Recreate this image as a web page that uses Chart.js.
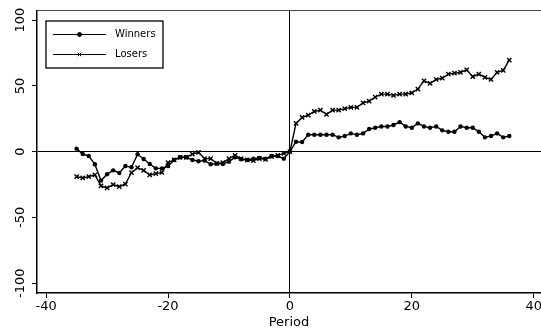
<!DOCTYPE html>
<html>
<head>
<meta charset="utf-8">
<script src="https://cdn.jsdelivr.net/npm/chart.js@4/dist/chart.umd.min.js"></script>
<style>
  html, body { margin: 0; padding: 0; background: #fff; }
  #wrap { width: 541px; height: 331px; }
</style>
</head>
<body>
<div id="wrap"><canvas id="c" width="541" height="331"></canvas></div>
<script>
const periods = [-35,-34,-33,-32,-31,-30,-29,-28,-27,-26,-25,-24,-23,-22,-21,-20,-19,-18,-17,-16,-15,-14,-13,-12,-11,-10,-9,-8,-7,-6,-5,-4,-3,-2,-1,0,1,2,3,4,5,6,7,8,9,10,11,12,13,14,15,16,17,18,19,20,21,22,23,24,25,26,27,28,29,30,31,32,33,34,35,36];
const winners = [2.3,-1.8,-3.3,-9.6,-22,-17.2,-14.2,-16.2,-10.9,-11.9,-2,-5.6,-9.4,-12.7,-12.7,-11,-6.3,-4.3,-4.3,-6.3,-7.3,-6.8,-9.6,-9.1,-9.4,-7.6,-4.3,-5.8,-6.3,-5.3,-4.8,-5.3,-3.3,-3.3,-5.3,0,7.6,7.3,12.9,12.9,12.9,12.9,12.9,10.9,11.9,13.9,12.9,13.9,17.2,18.2,19.2,19.2,20.3,22.5,19.2,18.2,21.5,19.2,18.2,19.2,16.2,15.2,15.2,19.2,18.2,18.2,15.2,10.9,11.9,13.9,10.9,11.9];
const losers = [-19,-20,-19,-17.7,-26,-27.6,-25,-26.6,-24.6,-16,-12.2,-14.2,-17.7,-16.7,-15.7,-8.4,-6.3,-4.3,-4.3,-1.8,-0.5,-5.3,-5.3,-8.9,-8.4,-5.3,-2.8,-5.3,-6.3,-6.8,-5.3,-5.8,-3.8,-2.8,-1.3,0,21.5,26,27.8,30.6,31.6,28.4,31.6,31.6,32.7,33.7,33.7,37.2,38.5,41.5,43.8,43.8,42.8,43.8,43.8,44.8,47.6,53.9,51.9,54.9,55.9,59,59.7,60.3,62.3,57,59,56.5,54.9,60.3,61.8,69.6];
const xTicks = [-40,-20,0,20,40];
const yTicks = [-100,-50,0,50,100];
const seriesNames = ['Winners','Losers'];
const xTitle = 'Period';

const FONT = 'DejaVu Sans';

const toPts = (ys) => periods.map((p, i) => ({x: p, y: ys[i]}));

const legendPlugin = {
  id: 'boxLegend',
  afterDraw(chart) {
    const ctx = chart.ctx;
    const ca = chart.chartArea;
    ctx.save();
    // top frame line
    ctx.strokeStyle = '#444';
    ctx.lineWidth = 1;
    ctx.beginPath();
    ctx.moveTo(ca.left, Math.round(ca.top) - 0.5);
    ctx.lineTo(chart.width, Math.round(ca.top) - 0.5);
    ctx.stroke();
    // legend box
    const bx = 46, by = 21, bw = 117, bh = 47;
    ctx.fillStyle = '#fff';
    ctx.fillRect(bx, by, bw, bh);
    ctx.strokeStyle = '#000';
    ctx.lineWidth = 1.3;
    ctx.strokeRect(bx, by, bw, bh);
    const rows = [34.5, 54.5];
    chart.data.datasets.forEach((ds, i) => {
      const y = rows[i];
      ctx.strokeStyle = '#000';
      ctx.lineWidth = 1;
      ctx.beginPath();
      ctx.moveTo(53, y);
      ctx.lineTo(106, y);
      ctx.stroke();
      ctx.fillStyle = '#000';
      Chart.helpers.drawPoint(ctx, {pointStyle: ds.pointStyle, radius: ds.pointStyle === 'circle' ? 2 : 2.5, borderWidth: 1.1}, 79.5, y);
      ctx.fillStyle = '#000';
      ctx.font = '10px "' + FONT + '"';
      ctx.textBaseline = 'middle';
      ctx.textAlign = 'left';
      ctx.fillText(ds.label, 115, y);
    });
    ctx.restore();
  }
};

const gridColor = (c) => (c.tick && c.tick.value === 0) ? '#000' : 'rgba(0,0,0,0)';

new Chart(document.getElementById('c'), {
  type: 'line',
  data: {
    datasets: [
      {
        label: seriesNames[0],
        data: toPts(winners),
        borderColor: '#000',
        backgroundColor: '#000',
        borderWidth: 1.4,
        pointStyle: 'circle',
        pointRadius: 2.2,
        pointBorderWidth: 0,
        pointBackgroundColor: '#000',
        tension: 0,
        fill: false
      },
      {
        label: seriesNames[1],
        data: toPts(losers),
        borderColor: '#000',
        backgroundColor: '#000',
        borderWidth: 1.4,
        pointStyle: 'crossRot',
        pointRadius: 3,
        pointBorderWidth: 1.4,
        pointBorderColor: '#000',
        tension: 0,
        fill: false
      }
    ]
  },
  options: {
    responsive: false,
    devicePixelRatio: 1,
    animation: false,
    events: [],
    layout: { autoPadding: false, padding: { top: 11, left: 0, right: 0, bottom: 0 } },
    plugins: {
      legend: { display: false },
      tooltip: { enabled: false }
    },
    scales: {
      x: {
        type: 'linear',
        min: -41.5,
        max: 41.2,
        afterBuildTicks: (s) => { s.ticks = xTicks.map(v => ({value: v})); },
        afterFit: (s) => { s.height = 38; s.paddingLeft = 0; s.paddingRight = 0; },
        grid: { color: gridColor, lineWidth: 1, tickColor: '#000', tickLength: 5, drawTicks: true },
        border: { display: true, color: '#000', width: 1.5 },
        ticks: { color: '#000', font: { family: FONT, size: 13 }, padding: 1, maxRotation: 0, minRotation: 0, autoSkip: false, callback: (v) => String(v) },
        title: { display: true, text: xTitle, color: '#000', font: { family: FONT, size: 13 }, padding: { top: 0, bottom: 1 } }
      },
      y: {
        type: 'linear',
        min: -107.5,
        max: 107,
        afterBuildTicks: (s) => { s.ticks = yTicks.map(v => ({value: v})); },
        afterFit: (s) => { s.width = 37; s.paddingTop = 0; s.paddingBottom = 0; },
        grid: { color: gridColor, lineWidth: 1, tickColor: '#000', tickLength: 5, drawTicks: true },
        border: { display: true, color: '#000', width: 1.5 },
        ticks: { color: '#000', font: { family: FONT, size: 13 }, padding: -3, minRotation: 90, maxRotation: 90, crossAlign: 'center', autoSkip: false, callback: (v) => String(v) }
      }
    }
  },
  plugins: [legendPlugin]
});
</script>
</body>
</html>
